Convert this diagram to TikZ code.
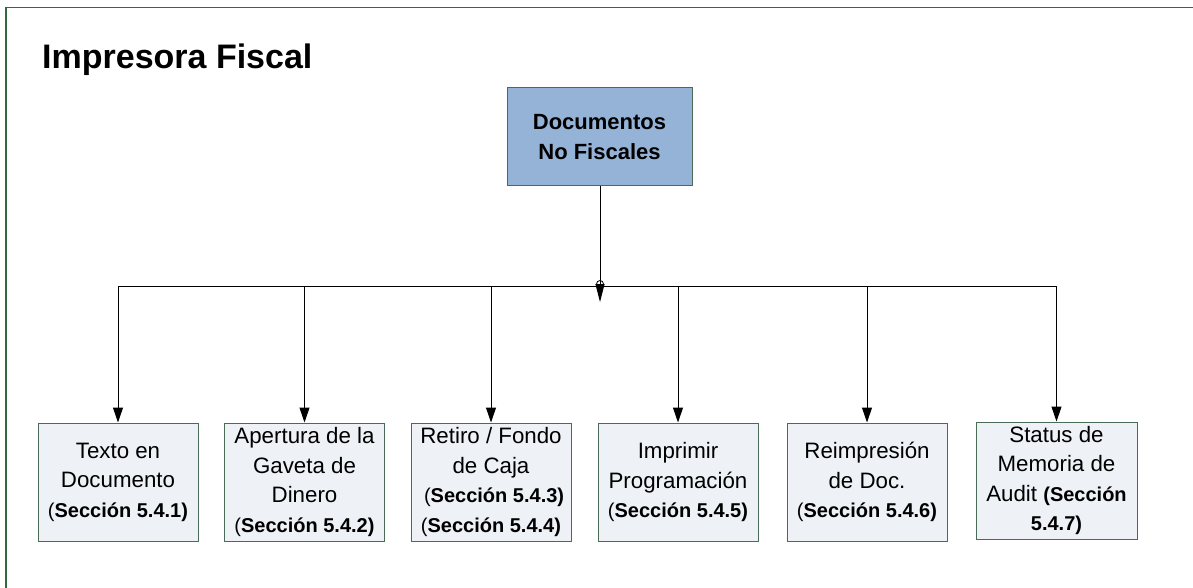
\documentclass[tikz,border=0pt]{standalone}
\usepackage{fontspec}
\setmainfont{Liberation Sans}
\usetikzlibrary{arrows.meta}
\definecolor{framegreen}{HTML}{2E6B3E}
\definecolor{boxedge}{HTML}{4A6B57}
\definecolor{topfill}{HTML}{95B3D7}
\definecolor{subfill}{HTML}{EEF1F6}
\tikzset{
 topbox/.style={draw=boxedge, fill=topfill, line width=1pt, minimum width=185pt, minimum height=98pt, align=center, font=\fontsize{22}{30}\selectfont\bfseries, inner sep=0pt},
 subbox/.style={draw=boxedge, fill=subfill, line width=1pt, minimum width=160pt, minimum height=118pt, align=center, font=\fontsize{22.3}{29.5}\selectfont, inner sep=0pt},
 conn/.style={draw=black, line width=1pt},
 arr/.style={conn, -{Triangle[length=15pt,width=10pt]}},
 toparr/.style={conn, -{Triangle[length=18pt,width=9pt]}},
 jdot/.style={circle, draw=black, fill=white, line width=0.8pt, inner sep=0pt, minimum size=7pt},
 titletext/.style={font=\fontsize{34}{40}\selectfont\bfseries, inner sep=0pt, anchor=base west},
}
\newcommand{\mysec}[1]{{\fontsize{20}{29.5}\selectfont(\bfseries Sección #1)}}
\begin{document}
\begin{tikzpicture}[x=1pt,y=1pt]
\useasboundingbox (0,0) rectangle (1193,-588);
\fill[white] (0,0) rectangle (1193,-588);
\draw[framegreen, line width=1.2pt] (6,-600) -- (6,-7.5) -- (1200,-7.5);
\node[titletext] (title) at (42,-69) {Impresora Fiscal};
\node[topbox] (doc) at (599.5,-137) {Documentos\\No Fiscales};
\node[subbox] (b1) at (118,-482) {Texto en\\Documento\\\mysec{5.4.1}};
\node[subbox] (b2) at (304.5,-482) {Apertura de la\\Gaveta de\\Dinero\\\mysec{5.4.2}};
\node[subbox] (b3) at (491,-482) {Retiro / Fondo\\de Caja\\\ \mysec{5.4.3}\\\mysec{5.4.4}};
\node[subbox] (b4) at (678,-482) {Imprimir\\Programación\\\mysec{5.4.5}};
\node[subbox] (b5) at (867,-482) {Reimpresión\\de Doc.\\\mysec{5.4.6}};
\node[subbox, minimum width=161pt, minimum height=117pt] (b6) at (1056.5,-480.5) {Status de\\Memoria de\\Audit {\fontsize{20}{29.5}\selectfont\bfseries(Sección}\\{\fontsize{20}{29.5}\selectfont\bfseries 5.4.7)}};
\coordinate (busy) at (0,-286);
\coordinate (busL) at (b1.north |- busy);
\coordinate (busR) at (b6.north |- busy);
\coordinate (jc) at (600,-302);
\draw[conn] (busL) -- (busR);
\foreach \b in {b1,b2,b3,b4,b5,b6}{
  \draw[arr] (\b.north |- busy) -- (\b.north);
}
\node[jdot] (jd) at (600,-284) {};
\draw[toparr] (doc.south -| jc) -- (jc);
\end{tikzpicture}
\end{document}
